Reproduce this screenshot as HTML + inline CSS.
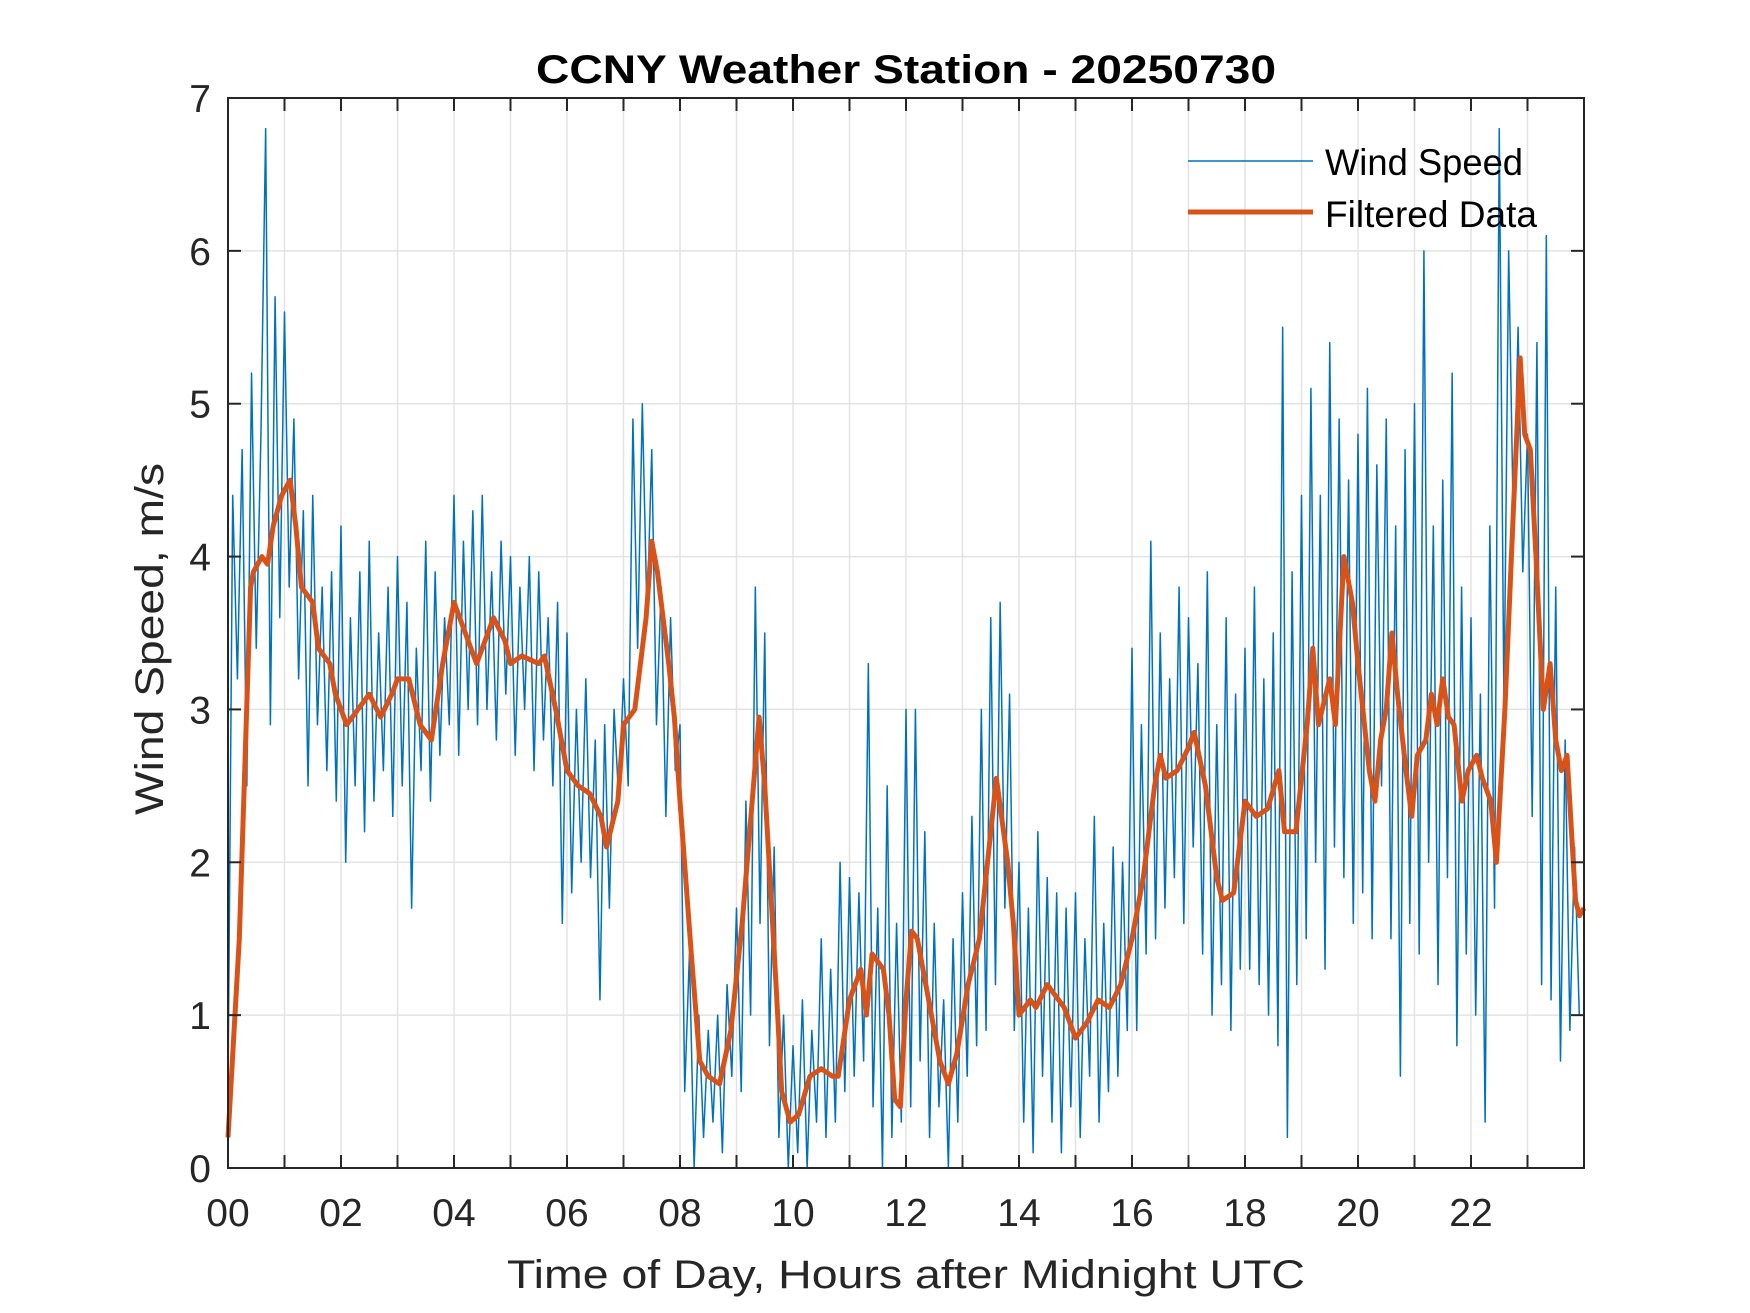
<!DOCTYPE html>
<html><head><meta charset="utf-8"><style>
html,body{margin:0;padding:0;background:#fff;}
svg{display:block;font-family:"Liberation Sans",Arial,sans-serif;}
</style></head><body>
<svg id="chart" width="1750" height="1313" viewBox="0 0 1750 1313" xmlns="http://www.w3.org/2000/svg">
<rect width="1750" height="1313" fill="#fff"/>
<g id="grid"></g>
<g id="series"></g>
<g id="axes"></g>
<text x="906" y="83" text-anchor="middle" font-size="40" font-weight="bold" fill="#000" textLength="740" lengthAdjust="spacingAndGlyphs">CCNY Weather Station - 20250730</text>
<text x="906" y="1288" text-anchor="middle" font-size="40" fill="#262626" textLength="798" lengthAdjust="spacingAndGlyphs">Time of Day, Hours after Midnight UTC</text>
<text transform="translate(163,639) rotate(-90)" text-anchor="middle" font-size="40" fill="#262626" textLength="352" lengthAdjust="spacingAndGlyphs">Wind Speed, m/s</text>
<g>
  <line x1="1188" y1="161" x2="1313" y2="161" stroke="#0072BD" stroke-width="1.5"/>
  <text x="1325" y="175" font-size="37" fill="#000" textLength="198" lengthAdjust="spacingAndGlyphs">Wind Speed</text>
  <line x1="1188" y1="212" x2="1313" y2="212" stroke="#D95319" stroke-width="5"/>
  <text x="1325" y="227" font-size="37" fill="#000" textLength="212" lengthAdjust="spacingAndGlyphs">Filtered Data</text>
</g>
</svg>
<script>
const xTickLabels = ["00","02","04","06","08","10","12","14","16","18","20","22"];
const yTickLabels = ["0","1","2","3","4","5","6","7"];
// raw wind speed, 5-minute samples, 12 per hour
const windSpeed = [
0.5,4.4,3.2,4.7,2.5,5.2,3.4,4.8,6.8,2.9,5.7,3.6,
5.6,3.8,4.9,3.2,4.3,2.5,4.4,2.9,3.8,2.6,3.9,2.4,
4.2,2.0,3.6,2.5,3.9,2.2,4.1,2.4,3.5,2.6,3.8,2.3,
4.0,2.5,3.7,1.7,3.4,2.6,4.1,2.4,3.9,2.7,3.6,2.9,
4.4,2.7,4.1,3.0,4.3,2.9,4.4,3.0,3.9,2.8,4.1,3.1,
4.0,2.7,3.8,3.0,4.0,2.6,3.9,2.8,3.6,2.5,3.7,1.6,
3.5,1.8,3.0,2.0,3.2,1.9,2.8,1.1,2.9,1.7,3.0,2.4,
3.2,2.5,4.9,3.4,5.0,3.6,4.7,2.9,3.8,2.3,3.6,2.6,
2.9,0.5,1.4,0.0,1.0,0.2,0.9,0.3,1.0,0.1,1.2,0.6,
1.7,0.5,2.4,1.0,3.8,1.6,3.5,0.8,2.1,0.2,1.0,0.0,
0.8,0.1,1.1,0.0,0.9,0.3,1.5,0.2,1.3,0.3,2.0,0.5,
1.9,0.6,1.8,0.7,3.3,0.4,1.7,0.0,2.5,0.2,1.6,0.3,
3.0,0.4,3.0,0.7,2.2,0.2,1.6,0.4,1.1,0.0,1.5,0.3,
1.8,0.6,2.3,0.8,3.0,0.9,3.6,1.2,3.7,1.7,3.1,0.9,
2.0,0.3,1.7,0.1,2.2,0.6,1.9,0.3,1.8,0.1,1.7,0.4,
1.8,0.2,1.5,0.6,2.3,0.3,1.6,0.5,2.1,0.6,2.0,0.9,
3.4,0.9,2.9,1.4,4.1,1.5,3.5,1.7,3.2,1.9,3.8,1.6,
3.6,2.1,3.3,1.4,3.9,1.0,2.9,1.2,3.6,0.9,3.1,1.3,
3.4,1.3,3.8,1.2,3.2,1.0,3.5,0.8,5.5,0.2,3.9,1.2,
4.4,1.5,5.1,2.0,4.4,1.3,5.4,2.1,4.9,1.9,4.5,1.6,
4.8,1.8,5.1,1.5,4.6,2.5,4.9,1.5,4.2,0.6,4.7,1.6,
5.0,1.4,6.0,2.0,4.2,1.2,4.5,1.9,5.2,0.8,3.8,1.4,
3.6,1.0,3.1,0.3,4.2,1.7,6.8,3.0,6.0,4.2,5.5,3.9,
4.8,2.3,5.4,1.2,6.1,1.1,3.8,0.7,2.8,0.9,2.1,1.0
];
const filtHours = [0,0.2,0.4,0.45,0.6,0.7,0.8,0.95,1.1,1.2,1.3,1.5,1.6,1.8,1.9,2.1,2.3,2.5,2.7,2.9,3.0,3.2,3.4,3.6,3.8,4.0,4.2,4.4,4.6,4.7,4.9,5.0,5.2,5.5,5.6,5.8,6.0,6.2,6.4,6.6,6.7,6.9,7.0,7.2,7.4,7.5,7.6,7.8,7.9,8.0,8.2,8.35,8.5,8.7,8.9,9.1,9.3,9.4,9.5,9.7,9.8,9.95,10.1,10.3,10.5,10.7,10.8,11.0,11.2,11.3,11.4,11.6,11.7,11.8,11.9,12.0,12.1,12.2,12.4,12.6,12.75,12.9,13.1,13.3,13.5,13.6,13.8,13.9,14.0,14.2,14.3,14.5,14.7,14.8,15.0,15.2,15.4,15.6,15.8,16.0,16.2,16.4,16.5,16.6,16.8,17.0,17.1,17.3,17.5,17.6,17.8,18.0,18.2,18.4,18.6,18.7,18.9,19.1,19.2,19.3,19.5,19.6,19.75,19.9,20.0,20.2,20.3,20.4,20.5,20.6,20.7,20.85,20.95,21.05,21.2,21.3,21.4,21.5,21.6,21.7,21.84,21.95,22.1,22.2,22.35,22.45,22.6,22.75,22.87,22.95,23.05,23.15,23.28,23.4,23.5,23.6,23.7,23.85,23.92,24.0];
const filtValues = [0.2,1.5,3.8,3.9,4.0,3.95,4.2,4.4,4.5,4.2,3.8,3.7,3.4,3.3,3.1,2.9,3.0,3.1,2.95,3.1,3.2,3.2,2.9,2.8,3.3,3.7,3.5,3.3,3.5,3.6,3.45,3.3,3.35,3.3,3.35,3.0,2.6,2.5,2.45,2.3,2.1,2.4,2.9,3.0,3.6,4.1,3.9,3.3,2.95,2.4,1.4,0.7,0.6,0.55,0.9,1.6,2.5,2.95,2.5,1.2,0.5,0.3,0.35,0.6,0.65,0.6,0.6,1.1,1.3,1.0,1.4,1.3,1.0,0.45,0.4,1.1,1.55,1.5,1.1,0.7,0.55,0.75,1.2,1.5,2.2,2.55,2.0,1.6,1.0,1.1,1.05,1.2,1.1,1.05,0.85,0.95,1.1,1.05,1.2,1.5,1.9,2.5,2.7,2.55,2.6,2.75,2.85,2.5,1.9,1.75,1.8,2.4,2.3,2.35,2.6,2.2,2.2,2.9,3.4,2.9,3.2,2.9,4.0,3.7,3.3,2.6,2.4,2.8,3.0,3.5,3.1,2.6,2.3,2.7,2.8,3.1,2.9,3.2,2.95,2.9,2.4,2.6,2.7,2.55,2.4,2.0,3.0,4.3,5.3,4.8,4.7,4.0,3.0,3.3,2.8,2.6,2.7,1.75,1.65,1.7];

const L=228,R=1584,T=98,B=1168;
const xMax=24,yMax=7;
const xs=h=>L+(R-L)*h/xMax;
const ys=v=>B-(B-T)*v/yMax;
const NS="http://www.w3.org/2000/svg";
function mk(tag,attrs,parent){const e=document.createElementNS(NS,tag);for(const k in attrs)e.setAttribute(k,attrs[k]);parent.appendChild(e);return e;}
const grid=document.getElementById('grid'),axes=document.getElementById('axes'),series=document.getElementById('series');

for(let h=1;h<24;h++){
  const g=mk('line',{x1:xs(h),x2:xs(h),y1:T,y2:B,stroke:'#e3e3e3','stroke-width':1.5},grid);
  
  
}
for(let v=1;v<yMax;v++){
  const g=mk('line',{x1:L,x2:R,y1:ys(v),y2:ys(v),stroke:'#e3e3e3','stroke-width':1.5},grid);
  
  
}
const rawPts=windSpeed.map((v,i)=>xs(i*xMax/windSpeed.length)+','+ys(v)).join(' ');
const raw=mk('polyline',{points:rawPts,fill:'none',stroke:'#0072BD','stroke-width':1.5,'stroke-linejoin':'round'},series);


const fPts=filtHours.map((h,i)=>xs(h)+','+ys(filtValues[i])).join(' ');
const filt=mk('polyline',{points:fPts,fill:'none',stroke:'#D95319','stroke-width':5,'stroke-linejoin':'round'},series);



const box=mk('rect',{x:L,y:T,width:R-L,height:B-T,fill:'none',stroke:'#262626','stroke-width':2},axes);


for(let h=1;h<24;h++){
  const t1=mk('line',{x1:xs(h),x2:xs(h),y1:B,y2:B-13,stroke:'#262626','stroke-width':2},axes);
  
  
  const t2=mk('line',{x1:xs(h),x2:xs(h),y1:T,y2:T+13,stroke:'#262626','stroke-width':2},axes);
  
  
}
xTickLabels.forEach((s,i)=>{
  const t=mk('text',{x:xs(i*2),y:1226,'text-anchor':'middle','font-size':39,fill:'#262626'},axes);
  t.textContent=s;
  
  
});
yTickLabels.forEach((s,i)=>{
  const v=+s;
  if(v>0&&v<yMax){
    const a=mk('line',{x1:L,x2:L+13,y1:ys(v),y2:ys(v),stroke:'#262626','stroke-width':2},axes);
    
    
    const b=mk('line',{x1:R,x2:R-13,y1:ys(v),y2:ys(v),stroke:'#262626','stroke-width':2},axes);
    
    
  }
  const t=mk('text',{x:211,y:ys(v)+14,'text-anchor':'end','font-size':39,fill:'#262626'},axes);
  t.textContent=s;
  
  
});
</script>
</body></html>
